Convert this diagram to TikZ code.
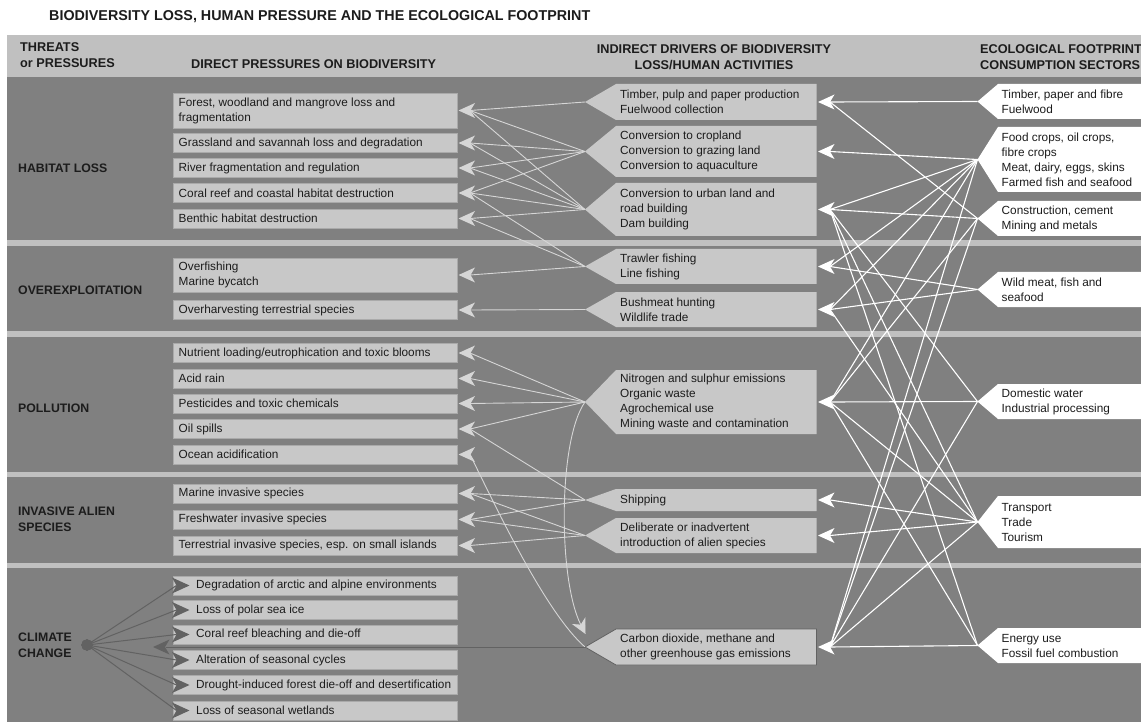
\documentclass[tikz,border=0pt]{standalone}
\usepackage{fontspec}
\setmainfont{Liberation Sans}
\usetikzlibrary{arrows.meta}
\definecolor{bgd}{RGB}{128,128,128}
\definecolor{band}{RGB}{192,192,192}
\definecolor{boxg}{RGB}{200,200,200}
\definecolor{boxe}{RGB}{170,170,170}
\definecolor{lline}{RGB}{214,214,214}
\definecolor{ink}{RGB}{28,28,28}
\definecolor{cdark}{RGB}{98,98,98}
\newcommand\bodyfont{\fontsize{11.8}{15}\selectfont}
\newcommand\catfont{\fontsize{12.3}{16}\selectfont\bfseries}
\newcommand\hdfont{\fontsize{12.7}{16}\selectfont\bfseries}
\tikzset{
  txt/.style={inner sep=0pt, anchor=west, align=left, font=\bodyfont, text=ink},
  cat/.style={inner sep=0pt, anchor=west, align=left, font=\catfont, text=ink},
  hd/.style={inner sep=0pt, font=\hdfont, text=ink},
  lbox/.style={fill=boxg, draw=boxe, line width=0.5pt},
  rline/.style={white, line width=1.1pt},
  lconn/.style={lline, line width=0.9pt},
  cline/.style={cdark, line width=1pt},
}
% left box with incoming arrow
\newcommand\LBox[4]{%
  \path[lbox] (173,#2) rectangle (457,#3);
  \node[txt] (#1) at (178.5,{(#2+#3)/2}) {#4};
  \coordinate (#1-j) at (470,{(#2+#3)/2});
  \coordinate (#1-h) at (458.5,{(#2+#3)/2});
}
\newcommand\CBox[4]{%
  \path[lbox] (173,#2) rectangle (457,#3);
  \node[txt] (#1) at (196,{(#2+#3)/2}) {#4};
  \coordinate (#1-j) at (176.5,{(#2+#3)/2});
  \coordinate (#1-h) at (189.5,{(#2+#3)/2});
}
\newcommand\DBox[5]{%
  \path[fill=boxg,#5] (585,{(#2+#3)/2}) -- (616,#2) -- (816.5,#2) -- (816.5,#3) -- (616,#3) -- cycle;
  \node[txt] (#1-t) at (620,{(#2+#3)/2}) {#4};
  \coordinate (#1) at (585,{(#2+#3)/2});
  \coordinate (#1-r) at (830,{(#2+#3)/2});
  \coordinate (#1-h) at (818,{(#2+#3)/2});
}
\newcommand\FBox[4]{%
  \path[fill=white] (977.5,{(#2+#3)/2}) -- (998,#2) -- (1150,#2) -- (1150,#3) -- (998,#3) -- cycle;
  \node[txt] (#1-t) at (1001.5,{(#2+#3)/2}) {#4};
  \coordinate (#1) at (977.5,{(#2+#3)/2});
}
\newcommand\LHead[2]{\fill[#2] (#1) -- ++(16.5,-7.5) -- ++(-4.5,7.5) -- ++(4.5,7.5) -- cycle;}
\newcommand\RHead[2]{\fill[#2] (#1) -- ++(-17.5,-8) -- ++(4.5,8) -- ++(-4.5,8) -- cycle;}
\begin{document}
\begin{tikzpicture}[x=1pt,y=-1pt]
\useasboundingbox (0,0) rectangle (1141,722);
\clip (0,0) rectangle (1141,722);
\fill[white] (0,0) rectangle (1141,722);
% bands
\fill[band] (6.5,35) rectangle (1150,77);
\fill[bgd] (6.5,77) rectangle (1150,730);
\foreach \ya/\yb in {240/246, 331/337, 472/477, 563/568}
  \fill[band] (6.5,\ya) rectangle (1150,\yb);
% title and headers
\node[inner sep=0pt, anchor=west, font=\fontsize{14.3}{16}\selectfont\bfseries, text=ink] (title) at (49,17) {BIODIVERSITY LOSS, HUMAN PRESSURE AND THE ECOLOGICAL FOOTPRINT};
\node[hd, anchor=west, align=left] (hthreat) at (20,55) {THREATS\\or PRESSURES};
\node[hd, anchor=west] (hdirect) at (191,64) {DIRECT PRESSURES ON BIODIVERSITY};
\node[hd, align=center] (hindirect) at (714,57) {INDIRECT DRIVERS OF BIODIVERSITY\\LOSS/HUMAN ACTIVITIES};
\node[hd, anchor=west, align=left] (hfoot) at (980,57) {ECOLOGICAL FOOTPRINT/\\CONSUMPTION SECTORS};
% categories
\node[cat] (habitat) at (18,168) {HABITAT LOSS};
\node[cat] (overex) at (18,290) {OVEREXPLOITATION};
\node[cat] (pollution) at (18,408) {POLLUTION};
\node[cat] (invasive) at (18,519) {INVASIVE ALIEN\\SPECIES};
\node[cat] (climate) at (18,645) {CLIMATE\\CHANGE};
% direct pressures
\LBox{forest}{93}{128}{Forest, woodland and mangrove loss and\\fragmentation}
\LBox{grass}{133.5}{152.5}{Grassland and savannah loss and degradation}
\LBox{river}{158.5}{177.5}{River fragmentation and regulation}
\LBox{coral}{183.5}{202.5}{Coral reef and coastal habitat destruction}
\LBox{benthic}{209}{228}{Benthic habitat destruction}
\LBox{overf}{258}{292}{Overfishing\\Marine bycatch}
\LBox{overh}{300.5}{319.5}{Overharvesting terrestrial species}
\LBox{nutr}{343.5}{362.5}{Nutrient loading/eutrophication and toxic blooms}
\LBox{acid}{369}{388}{Acid rain}
\LBox{pest}{394}{413}{Pesticides and toxic chemicals}
\LBox{oil}{419.5}{438.5}{Oil spills}
\LBox{ocean}{445}{464}{Ocean acidification}
\LBox{marine}{484}{503}{Marine invasive species}
\LBox{fresh}{510}{529}{Freshwater invasive species}
\LBox{terr}{536}{555}{Terrestrial invasive species, esp. on small islands}
\CBox{c1}{576}{595}{Degradation of arctic and alpine environments}
\CBox{c2}{600.5}{619.5}{Loss of polar sea ice}
\CBox{c3}{625}{644}{Coral reef bleaching and die-off}
\CBox{c4}{650.5}{669.5}{Alteration of seasonal cycles}
\CBox{c5}{675.5}{694.5}{Drought-induced forest die-off and desertification}
\CBox{c6}{701}{720}{Loss of seasonal wetlands}
% indirect drivers
\DBox{d1}{84}{120}{Timber, pulp and paper production\\Fuelwood collection}{}
\DBox{d2}{126}{177}{Conversion to cropland\\Conversion to grazing land\\Conversion to aquaculture}{}
\DBox{d3}{183}{236}{Conversion to urban land and\\road building\\Dam building}{}
\DBox{d4}{249}{284}{Trawler fishing\\Line fishing}{}
\DBox{d5}{292}{327}{Bushmeat hunting\\Wildlife trade}{}
\DBox{d6}{370}{434}{Nitrogen and sulphur emissions\\Organic waste\\Agrochemical use\\Mining waste and contamination}{}
\DBox{d7}{489}{511}{Shipping}{}
\DBox{d8}{518}{553}{Deliberate or inadvertent\\introduction of alien species}{}
\DBox{d9}{629}{665}{Carbon dioxide, methane and\\other greenhouse gas emissions}{draw=cdark, line width=0.8pt}
% footprint
\FBox{f1}{84}{119}{Timber, paper and fibre\\Fuelwood}
\FBox{f2}{127}{192}{Food crops, oil crops,\\fibre crops\\Meat, dairy, eggs, skins\\Farmed fish and seafood}
\FBox{f3}{201}{236}{Construction, cement\\Mining and metals}
\FBox{f4}{272}{307}{Wild meat, fish and\\seafood}
\FBox{f5}{384}{419}{Domestic water\\Industrial processing}
\FBox{f6}{496}{548}{Transport\\Trade\\Tourism}
\FBox{f7}{628}{663}{Energy use\\Fossil fuel combustion}
% left connectors
\foreach \a/\b in {d1/forest, d2/forest, d2/grass, d2/river, d2/coral, d3/forest, d3/grass, d3/river, d3/coral, d3/benthic, d4/coral, d4/benthic, d4/overf, d5/overh, d6/nutr, d6/acid, d6/pest, d6/oil, d7/oil, d7/marine, d7/fresh, d8/marine, d8/fresh, d8/terr}
  \draw[lconn] (\a) -- (\b-j);
\foreach \b in {forest, grass, river, coral, benthic, overf, overh, nutr, acid, pest, oil, ocean, marine, fresh, terr}
  \LHead{\b-h}{lline}
\coordinate (d9a) at (585.5,634);
\draw[lconn] (ocean-j) .. controls (495,505) and (545,612) .. (d9);
\draw[lconn, -{Stealth[length=15pt,width=15pt,inset=4.5pt]}] (d6) .. controls (558,440) and (558,580) .. (d9a);
% right connectors
\foreach \a/\b in {f1/d1, f2/d2, f2/d3, f2/d4, f2/d5, f2/d6, f2/d9, f3/d1, f3/d3, f3/d6, f3/d9, f4/d4, f4/d5, f5/d3, f5/d6, f5/d9, f6/d3, f6/d5, f6/d6, f6/d7, f6/d8, f6/d9, f7/d3, f7/d6, f7/d9}
  \draw[rline] (\a) -- (\b-r);
\foreach \b in {d1,d2,d3,d4,d5,d6,d7,d8,d9}
  \LHead{\b-h}{white}
% climate change
\coordinate (ccdot) at (87,645);
\foreach \c in {c1,c2,c3,c4,c5,c6}
  \draw[cline] (ccdot) -- (\c-j);
\foreach \c in {c1,c2,c3,c4,c5,c6}
  \RHead{\c-h}{cdark}
\fill[cdark] (ccdot) circle (5.5);
\coordinate (ghgend) at (166,647);
\coordinate (ghgh) at (153,647);
\draw[cdark, line width=0.9pt] (d9) -- (ghgend);
\LHead{ghgh}{cdark}
\end{tikzpicture}
\end{document}
